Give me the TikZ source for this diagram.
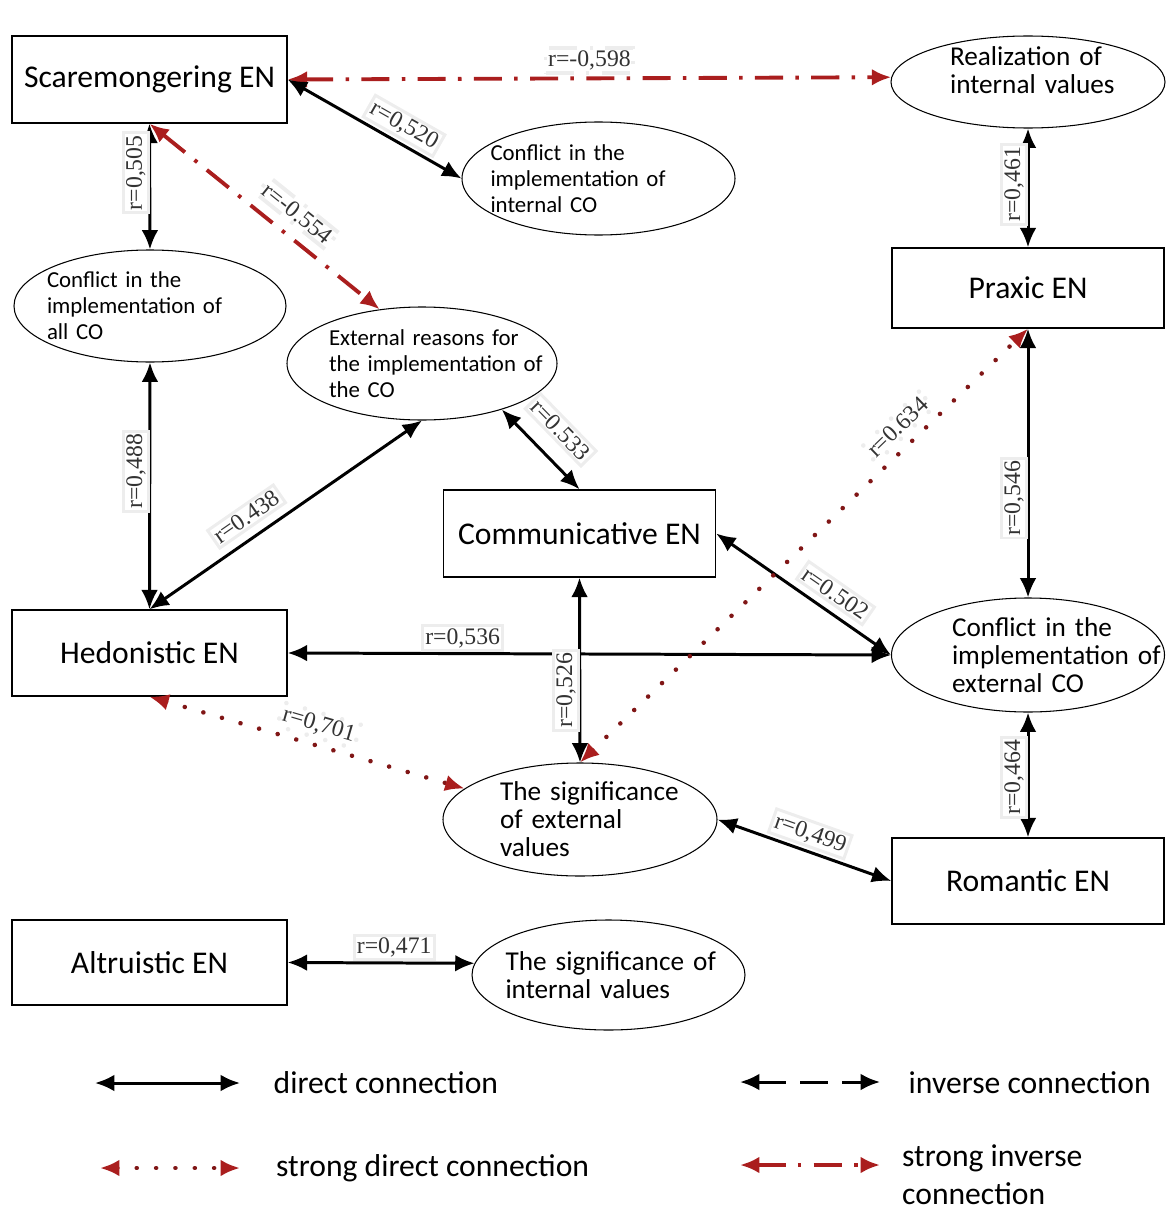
\documentclass[tikz,border=0pt]{standalone}
\usepackage{fontspec}
\setmainfont{Carlito}
\newfontfamily\lblfont{Liberation Serif}
\usetikzlibrary{shapes.geometric,arrows.meta}
\definecolor{darkred}{RGB}{170,30,30}
\tikzset{
  box/.style={draw, line width=0.8pt, minimum width=5.44cm, minimum height=1.72cm, font=\fontsize{18}{21}\selectfont},
  oval/.style={ellipse, draw, line width=0.6pt, inner sep=-3cm, text width=5.6cm, align=left},
  ovsmall/.style={font=\fontsize{13}{14.8}\selectfont},
  ovlarge/.style={font=\fontsize{15.5}{16}\selectfont},
  txtin/.style={execute at begin node={\leftskip=#1}},
  lbl/.style={font=\lblfont\fontsize{13.5}{15}\selectfont, text=black!80, fill=white, draw=black!7, inner sep=1.5pt},
  legtext/.style={font=\fontsize{18}{21.6}\selectfont, align=left},
  dircon/.style={line width=1.7pt, {Latex[length=11pt,width=9.5pt]}-{Latex[length=11pt,width=9.5pt]}},
  inversecon/.style={dircon, dash pattern=on 16pt off 8pt},
  strongdir/.style={darkred!75!black, line width=2.6pt, line cap=round, dash pattern=on 0.01pt off 11pt,
    {Latex[length=11pt,width=9.5pt,darkred]}-{Latex[length=11pt,width=9.5pt,darkred]}},
  stronginv/.style={darkred, line width=2.2pt, dash pattern=on 16pt off 7pt on 2pt off 7pt,
    {Latex[length=11pt,width=9.5pt]}-{Latex[length=11pt,width=9.5pt]}}
}
\begin{document}
\begin{tikzpicture}
\useasboundingbox (0,0) rectangle (23.32,-24.22);
\node[box, minimum width=5.5cm, minimum height=1.74cm] (scare) at (2.99,-1.59) {Scaremongering EN};
\node[oval, ovlarge, txtin=1.24cm, minimum width=5.48cm, minimum height=1.84cm] (realiz) at (20.56,-1.64) {Realization of\\internal values\\[-0.1cm]\mbox{}};
\node[oval, ovsmall, txtin=0.64cm, minimum width=5.46cm, minimum height=2.26cm] (cintern) at (11.97,-3.57) {Conflict in the\\implementation of\\internal CO};
\node[oval, ovsmall, txtin=0.74cm, minimum width=5.44cm, minimum height=2.24cm] (call) at (3.0,-6.12) {Conflict in the\\implementation of\\all CO};
\node[oval, ovsmall, txtin=0.94cm, minimum width=5.4cm, minimum height=2.26cm] (extreas) at (8.44,-7.27) {External reasons for\\the implementation of\\the CO};
\node[box, minimum height=1.6cm] (praxic) at (20.56,-5.76) {Praxic EN};
\node[box, minimum height=1.74cm] (commun) at (11.59,-10.67) {Communicative EN};
\node[box, minimum width=5.5cm] (hedon) at (2.99,-13.06) {Hedonistic EN};
\node[oval, ovlarge, txtin=1.28cm, minimum width=5.46cm, minimum height=2.28cm] (cextern) at (20.56,-13.1) {Conflict in the\\implementation of\\external CO};
\node[oval, ovlarge, txtin=1.2cm, minimum width=5.48cm, minimum height=2.26cm] (sigext) at (11.6,-16.39) {The significance\\of external\\values};
\node[box] (romant) at (20.56,-17.62) {Romantic EN};
\node[box, minimum width=5.5cm, minimum height=1.7cm] (altru) at (2.99,-19.25) {Altruistic EN};
\node[oval, ovlarge, txtin=0.74cm, minimum width=5.46cm, minimum height=2.2cm] (sigint) at (12.17,-19.5) {The significance of\\internal values};

\draw[stronginv] (scare.east) -- node[lbl, above=2pt] {r=-0,598} (realiz.178);
\draw[dircon] (scare.east) -- node[lbl, sloped, above=2pt, pos=0.62] {r=0,520} (cintern.west);
\draw[dircon] (scare.south) -- node[lbl, rotate=90, anchor=south, pos=0.39] {r=0,505} (call.north);
\draw[stronginv] (scare.south) -- node[lbl, sloped, above=6pt, pos=0.58] {r=-0.554} (extreas.128);
\draw[dircon] (realiz.south) -- node[lbl, rotate=90, anchor=south, pos=0.47] {r=0,461} (praxic.north);
\draw[dircon] (call.south) -- node[lbl, rotate=90, anchor=south, pos=0.44] {r=0,488} (hedon.north);
\draw[dircon] (hedon.north) -- node[lbl, sloped, above=5pt, pos=0.4] {r=0.438} (extreas.south);
\draw[dircon] (extreas.-30) -- node[lbl, sloped, above=9pt, pos=0.5] {r=0.533} (commun.north);
\draw[dircon] (commun.east) -- node[lbl, sloped, above=4pt, pos=0.62] {r=0.502} (cextern.west);
\draw[dircon] (hedon.east) -- node[lbl, above=1pt, pos=0.29] {r=0,536} (cextern.west);
\draw[dircon] (praxic.south) -- node[lbl, rotate=90, anchor=south, pos=0.63] {r=0,546} (cextern.north);
\draw[strongdir] (sigext.north) -- node[lbl, sloped, above=4pt, pos=0.74] {r=0.634} (praxic.south);
\draw[dircon] (commun.south) -- node[lbl, rotate=90, anchor=south, pos=0.61] {r=0,526} (sigext.north);
\draw[strongdir] (hedon.south) -- node[lbl, sloped, above=3pt, pos=0.52] {r=0,701} (sigext.165);
\draw[dircon] (sigext.east) -- node[lbl, sloped, above=2pt, pos=0.5] {r=0,499} (romant.west);
\draw[dircon] (cextern.south) -- node[lbl, rotate=90, anchor=south, pos=0.52] {r=0,464} (romant.north);
\draw[dircon] (altru.east) -- node[lbl, above=1pt, pos=0.57] {r=0,471} (sigint.175);

\coordinate (dirA) at (1.9,-21.66);
\coordinate (dirB) at (4.8,-21.66);
\coordinate (invA) at (14.8,-21.64);
\coordinate (invB) at (17.6,-21.64);
\coordinate (sdirA) at (2.0,-23.36);
\coordinate (sdirB) at (4.8,-23.36);
\coordinate (sinvA) at (14.8,-23.3);
\coordinate (sinvB) at (17.6,-23.3);
\draw[dircon] (dirA) -- (dirB);
\draw[inversecon] (invA) -- (invB);
\draw[strongdir] (sdirA) -- (sdirB);
\draw[stronginv] (sinvA) -- (sinvB);
\node[legtext, anchor=west] (dirtxt) at (5.35,-21.66) {direct connection};
\node[legtext, anchor=west] (invtxt) at (18.05,-21.66) {inverse connection};
\node[legtext, anchor=west] (sdirtxt) at (5.4,-23.36) {strong direct connection};
\node[legtext, anchor=west] (sinvtxt) at (17.92,-23.5) {strong inverse\\connection};
\end{tikzpicture}
\end{document}
